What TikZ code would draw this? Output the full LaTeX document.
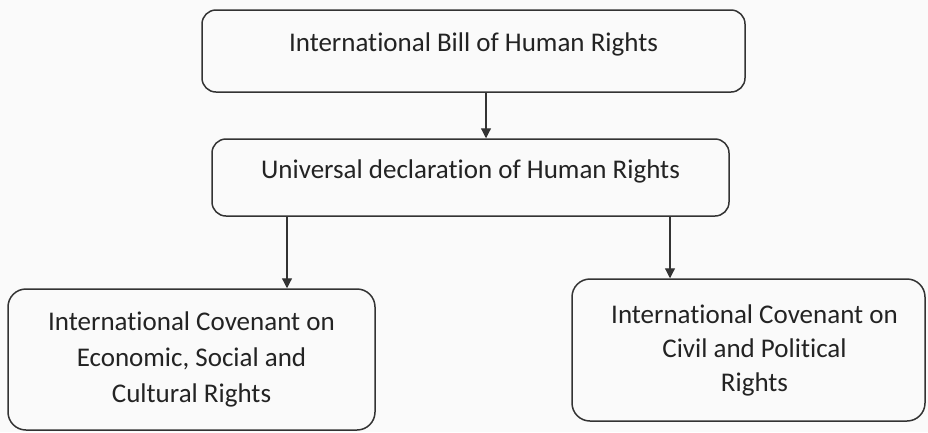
\documentclass[tikz,border=0pt]{standalone}
\usepackage{fontspec}
\setmainfont{Carlito}[Ligatures={NoCommon}]
\usetikzlibrary{arrows.meta}
\definecolor{ink}{HTML}{333333}
\definecolor{txt}{HTML}{232323}
\definecolor{paper}{HTML}{FAFAFA}
\tikzset{
  box/.style={draw=ink, line width=1.5pt, rounded corners=#1, text=txt,
    align=center, inner sep=0pt, font=\fontsize{27}{36}\selectfont},
  box/.default=14pt,
  arr/.style={draw=ink, line width=1.2pt, -{Triangle[length=10pt,width=10pt]}}
}
\begin{document}
\begin{tikzpicture}[x=1pt,y=-1pt]
\fill[paper] (0,0) rectangle (928,432);
\useasboundingbox (0,0) rectangle (928,432);
\node[box, minimum width=543pt, minimum height=82pt, text depth=17pt] (top) at (473.5,51) {International Bill of Human Rights};
\node[box, minimum width=517pt, minimum height=77pt, text depth=17pt] (mid) at (470.5,177.5) {Universal declaration of Human Rights};
\node[box=18pt, minimum width=367pt, minimum height=141pt] (left) at (191.5,359.5) {International Covenant on\\Economic, Social and\\Cultural Rights};
\node[box=18pt, minimum width=353pt, minimum height=142pt, font=\fontsize{27}{34}\selectfont] (right) at (748.5,350) {\hspace*{12pt}International Covenant on\\\hspace*{12pt}Civil and Political\\\hspace*{12pt}Rights};
\coordinate (c1) at (486,0);
\coordinate (c2) at (287,0);
\coordinate (c3) at (670,0);
\draw[arr] (c1 |- top.south) -- (c1 |- mid.north);
\draw[arr] (c2 |- mid.south) -- (c2 |- left.north);
\draw[arr] (c3 |- mid.south) -- (c3 |- right.north);
\end{tikzpicture}
\end{document}
